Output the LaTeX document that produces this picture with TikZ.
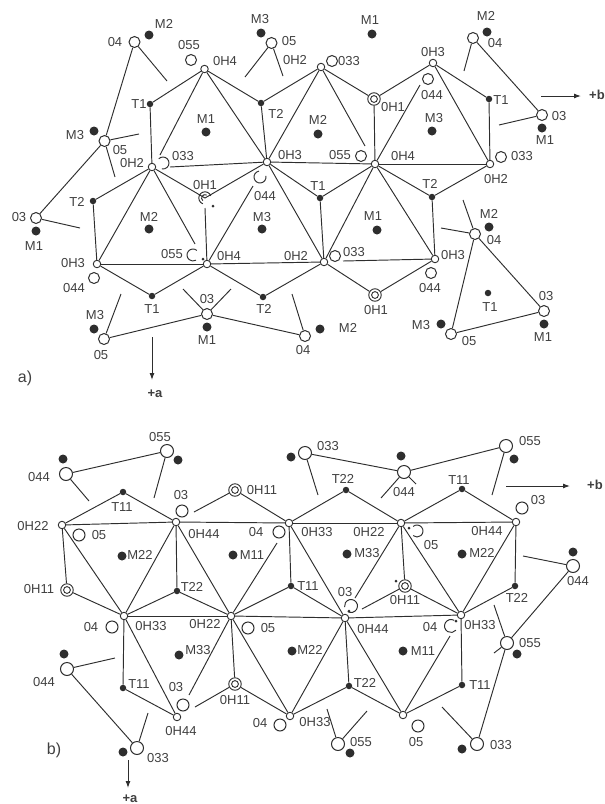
\documentclass[tikz,border=0pt]{standalone}
\usepackage{fontspec}
\setmainfont{Liberation Sans}
\usetikzlibrary{arrows.meta}
\definecolor{ink}{gray}{0.18}
\definecolor{txt}{gray}{0.25}
\tikzset{
  bond/.style={draw=ink,line width=0.95pt},
  axisline/.style={draw=ink,line width=1pt,-{Latex[length=7pt,width=5pt]}},
  sm/.style={circle,draw=ink,line width=0.9pt,fill=white,minimum size=7.5pt,inner sep=0pt},
  med/.style={circle,draw=ink,line width=1pt,fill=white,minimum size=11pt,inner sep=0pt},
  big/.style={circle,draw=ink,line width=1pt,fill=white,minimum size=13pt,inner sep=0pt},
  ring/.style={circle,draw=ink,line width=0.9pt,fill=white,minimum size=12.5pt,inner sep=0pt,
    path picture={\draw[ink,line width=0.9pt] (path picture bounding box.center) circle[radius=3.4pt];}},
  cat/.style={circle,fill=ink,minimum size=9pt,inner sep=0pt},
  tet/.style={circle,fill=ink,minimum size=6.5pt,inner sep=0pt},
  tiny/.style={circle,fill=ink,minimum size=3pt,inner sep=0pt},
  lbl/.style={text=txt,font=\fontsize{13}{13}\selectfont,inner sep=0pt},
  blbl/.style={text=txt,font=\fontsize{13}{13}\selectfont\bfseries,inner sep=0pt},
  hook/.style={draw=ink,line width=0.95pt},
}
\begin{document}
\begin{tikzpicture}[x=1pt,y=-1pt]
\useasboundingbox (0,0) rectangle (605,804);
% ---------- stub ends
\foreach \n/\x/\y in {
 s1/167/81, s2/139/134, s3/115/177, s4/245/77, s5/283/76, s6/80/228, s7/464/71, s8/499/125,
 s9/365/146, s10/420/85, s11/160/155, s12/170/167, s13/195/244, s14/205/208, s15/253/186,
 s16/343/261, s17/183/289, s18/231/289, s19/121/294, s20/292/294, s21/441/228, s22/463/200,
 t1/89/501, t2/154/498, t3/194/512, t4/318/495, t5/381/498, t6/416/484, t7/492/495,
 t8/523/556, t9/115/658, t10/148/713, t11/195/707, t12/277/543, t13/189/695, t14/450/636,
 t16/355/598, t17/362/609, t18/545/600, t19/494/605, t20/494/653, t21/442/707, t22/327/709, t23/367/711
 }{\coordinate (\n) at (\x,\y);}
% ---------- nodes of part a
\foreach \n/\x/\y in {
 a0Hfourt/204.5/69, a0Htwol/152/167, a0Hthreec/267/162, a0Htwou/321/67, a0Hthreer/433/63,
 a0Hfourc/375/164, a0Htwor/490/164, a0Hthreel/97/264, a0Hfourl/207/264, a0Htwob/324/262, a0Hthreeb/435/259}
 {\node[sm] (\n) at (\x,\y) {};}
\foreach \n/\x/\y in {a0Honeu/374/99, a0Honeb/375/295} {\node[ring] (\n) at (\x,\y) {};}
\coordinate (a0Honel) at (205,198);
\foreach \n/\x/\y in {
 aOfourt/134.5/42, aOfivel/104.5/141, aOfivet/271.5/43, aOthreel/36/218, aOfourr/473/38, aOthreer/542/115,
 aOthreeb/207/314, aOfiveb/104/339, aOfourb/305/336, aOfourrb/475/234, aOthreerb/544/311, aOfiverb/451/334}
 {\node[med] (\n) at (\x,\y) {};}
\foreach \n/\x/\y in {aOff/191/60, aOtt/332/61, aOgg/428/79, aOffc/361/156, aOttr/501/157, aOggl/94/278, aOttb/335/256, aOggb/431/273}
 {\node[med] (\n) at (\x,\y) {};}
% ---------- nodes of part b
\foreach \n/\x/\y in {
 b0Htwol/62/525, b0Hfouru/176/522, b0Hthreeu/289/523, b0Htwou/401/523, b0Hfourr/516/522,
 b0Hthreel/124/616, b0Htwoc/231/616, b0Hfourc/345/618, b0Hthreer/461/615,
 b0Hfourb/177/717, b0Hthreeb/290/716, b0Hb/403/715}
 {\node[sm] (\n) at (\x,\y) {};}
\foreach \n/\x/\y in {b0Honet/235/490, b0Honel/67/590, b0Honec/405/586, b0Honeb/235/684} {\node[ring] (\n) at (\x,\y) {};}
\foreach \n/\x/\y in {bA/167/451, bB/66/474, bC/305/453, bD/404/472, bE/506/446, bF/573/566, bG/67/669, bH/137/748, bI/338/744, bJ/507/643, bK/477/744}
 {\node[big] (\n) at (\x,\y) {};}
\foreach \n/\x/\y in {bOa/182/511, bOb/79/535, bOc/279/532, bOd/522/508, bOe/112/627, bOf/248/628, bOg/183/705, bOh/280/725, bOi/418/726}
 {\node[big,minimum size=12pt] (\n) at (\x,\y) {};}
% ---------- tetrahedral sites
\foreach \n/\x/\y in {aTa/150/104, aTb/261/103, aTc/489/99, aTd/93/201, aTe/320/198, aTf/432/197, aTg/152/296, aTh/263/297, aTi/488/293,
 bTa/123/492, bTb/346/490, bTc/462/489, bTd/177/591, bTe/291/586, bTf/515/586, bTg/123/688, bTh/349/686, bTi/462/685}
 {\node[tet] (\n) at (\x,\y) {};}
% ---------- octahedral sites
\foreach \n/\x/\y in {
 c1/149/35, c2/261/33, c3/372/34, c4/487/32, c5/94/131, c6/206/132, c7/318/134, c8/432/131, c9/542/128,
 c10/36/231, c11/149/229, c12/262/229, c13/377/230, c14/489/227, c15/207/327, c16/94/329, c17/320/329, c18/441/324, c19/544/324,
 d1/178/460, d2/63/459, d3/291/457, d4/401/456, d5/514/459, d6/122/556, d7/233/555, d8/347/554, d9/462/554, d10/573/552,
 d11/64/654, d12/179/655, d13/292/651, d14/403/651, d15/517/654, d16/123/752, d17/350/753, d18/462/749}
 {\node[cat] (\n) at (\x,\y) {};}
\foreach \n/\x/\y in {e1/213/206, e2/203/259, e3/409/528, e4/396/581, e5/456/621, e6/349/611}
 {\node[tiny] (\n) at (\x,\y) {};}
% ---------- bonds part a
\foreach \a/\b in {
 a0Hfourt/aTa, a0Hfourt/aTb, a0Hfourt/a0Hthreec, a0Hfourt/s11, aTa/a0Htwol, aTb/a0Hthreec, aTb/a0Htwou,
 a0Htwou/a0Hthreec, a0Htwou/a0Honeu, a0Htwou/s9, a0Honeu/a0Hthreer, a0Honeu/a0Hfourc, a0Hthreer/aTc, aTc/a0Htwor,
 a0Hthreer/a0Htwor, s10/a0Hfourc, a0Hfourc/a0Htwor, a0Hthreec/a0Hfourc, a0Hfourc/aTe, aTe/a0Hthreec, a0Hfourc/aTf,
 aTf/a0Htwor, a0Hfourc/a0Hthreeb, aTf/a0Hthreeb, a0Hfourc/a0Htwob, aTe/a0Htwob, a0Hthreec/a0Htwob,
 s12/a0Hthreec, a0Htwol/a0Honel, a0Honel/a0Hthreec, a0Htwol/aTd, aTd/a0Hthreel, a0Htwol/a0Hthreel, a0Htwol/s13,
 s14/a0Hfourl, s15/a0Hfourl, a0Hfourl/a0Hthreel, a0Hfourl/aTg, aTg/a0Hthreel, a0Hfourl/a0Htwob,
 a0Hfourl/aTh, aTh/a0Htwob, s16/a0Hthreeb, a0Htwob/a0Honeb, a0Honeb/a0Hthreeb,
 aOfourt/s1, aOfourt/aOfivel, aOfivel/s2, aOfivel/s3, aOfivel/aOthreel, aOfivet/s4, aOfivet/s5, aOthreel/s6,
 aOfourr/s7, aOfourr/aOthreer, aOthreer/s8, aOthreeb/s17, aOthreeb/s18, aOthreeb/aOfiveb, aOthreeb/aOfourb,
 aOfiveb/s19, aOfourb/s20, aOfourrb/s21, aOfourrb/s22, aOfourrb/aOthreerb, aOfourrb/aOfiverb, aOfiverb/aOthreerb}
 {\path[bond] (\a) -- (\b);}
% ---------- bonds part b
\foreach \a/\b in {
 b0Htwol/bTa, bTa/b0Hfouru, b0Htwol/b0Hfouru, b0Hfouru/b0Hthreeu, b0Hthreeu/b0Htwou, b0Htwou/b0Hfourr,
 b0Hthreeu/bTb, bTb/b0Htwou, b0Htwou/bTc, bTc/b0Hfourr, t3/b0Honet, b0Honet/b0Hthreeu,
 b0Htwol/b0Honel, b0Honel/b0Hthreel, b0Htwol/b0Hthreel, b0Hfouru/b0Hthreel, b0Hfouru/bTd, bTd/b0Hthreel, bTd/b0Htwoc,
 b0Hfouru/b0Htwoc, t12/b0Htwoc, b0Hthreeu/bTe, b0Hthreeu/b0Hfourc, bTe/b0Htwoc, bTe/b0Hfourc,
 b0Hthreel/b0Htwoc, b0Htwoc/b0Hfourc, b0Hfourc/b0Hthreer,
 b0Htwou/t16, b0Htwou/b0Honec, b0Htwou/b0Hthreer, b0Hfourr/bTf, b0Hfourr/b0Hthreer, bTf/b0Hthreer,
 t17/b0Honec, b0Honec/b0Hthreer, b0Hthreer/bTi, t14/b0Hb, b0Hfourc/bTh, b0Hfourc/b0Hb, bTh/b0Hthreeb, bTh/b0Hb, bTi/b0Hb,
 b0Hfourc/b0Hthreeb, b0Htwoc/b0Hthreeb, b0Htwoc/b0Honeb, b0Htwoc/t13, b0Hthreel/bTg, bTg/b0Hfourb, b0Hthreel/b0Hfourb,
 t11/b0Honeb, b0Honeb/b0Hthreeb,
 bB/bA, bB/t1, bA/t2, bC/t4, bC/bD, bD/t5, bD/t6, bD/bE, bE/t7, bF/t8, bF/bJ, bJ/t19, bJ/t20, bJ/bK, bK/t21,
 bG/t9, bG/bH, bH/t10, bI/t22, bI/t23}
 {\path[bond] (\a) -- (\b);}
% ---------- partly hidden ligands
\path[hook] (163,163) ++(135:6pt) arc[start angle=135,end angle=-100,radius=6pt];
\path[hook] (260,177) ++(100:6pt) arc[start angle=100,end angle=370,radius=6pt];
\path[hook] (205,198) ++(20:6.2pt) arc[start angle=20,end angle=250,radius=6.2pt];
\path[hook] (205,198) ++(60:3.4pt) arc[start angle=60,end angle=230,radius=3.4pt];
\path[hook] (193,255) ++(50:6pt) arc[start angle=50,end angle=300,radius=6pt];
\path[hook] (417,531) ++(130:6pt) arc[start angle=130,end angle=-130,radius=6pt];
\path[hook] (351,606) ++(-120:6.5pt) arc[start angle=-120,end angle=190,radius=6.5pt];
\path[hook] (451,626) ++(60:6.5pt) arc[start angle=60,end angle=320,radius=6.5pt];
% ---------- labels part a
\foreach \x/\y/\t in {
 164/24/M2, 115/42/04, 189/45/055, 225/61/0H4, 260/19/M3, 289/41/05, 295/60/0H2, 349/61/033, 370/20/M1,
 433/52/0H3, 486/16/M2, 495/43/04, 559/116/03, 545/140/M1, 139/104/T1, 276/114/T2, 206/119/M1, 318/120/M2, 434/118/M3,
 75/135/M3, 120/150/05, 132/163/0H2, 183/156/033, 290/155/0H3, 205/185/0H1, 265/196/044, 393/107/0H1, 432/95/044,
 340/155/055, 403/156/0H4, 522/156/033, 496/179/0H2, 318/186/T1, 430/184/T2, 77/202/T2, 19/217/03, 34/246/M1,
 149/217/M2, 262/217/M3, 373/216/M1, 489/214/M2, 494/240/04, 73/263/0H3, 74/288/044, 172/254/055, 229/256/0H4,
 296/256/0H2, 354/252/033, 453/255/0H3, 430/288/044, 152/309/T1, 264/309/T2, 207/299/03, 207/340/M1, 95/315/M3,
 101/355/05, 303/350/04, 348/328/M2, 376/310/0H1, 490/307/T1, 546/296/03, 543/337/M1, 469/341/05, 421/325/M3,
 501/100/T1}
 {\node[lbl] (la\x-\y) at (\x,\y) {\t};}
% ---------- labels part b
\foreach \x/\y/\t in {
 160/437/055, 39/477/044, 328/446/033, 530/441/055, 404/492/044, 122/507/T11, 181/495/03, 262/490/0H11, 343/479/T22, 459/480/T11,
 538/500/03, 33/526/0H22, 99/535/05, 204/534/0H44, 256/532/04, 317/532/0H33, 369/532/0H22, 487/531/0H44, 431/545/05,
 140/555/M22, 252/555/M11, 367/553/M33, 482/553/M22, 578/581/044, 39/589/0H11, 192/587/T22, 308/586/T11, 345/592/03, 405/600/0H11,
 517/598/T22, 91/627/04, 151/626/0H33, 205/624/0H22, 268/628/05, 373/629/0H44, 430/627/04, 480/625/0H33,
 198/650/M33, 310/650/M22, 423/651/M11, 530/643/055, 44/682/044, 139/684/T11, 176/687/03, 235/700/0H11,
 365/683/T22, 480/685/T11, 181/731/0H44, 260/723/04, 315/722/0H33, 158/758/033, 361/742/055, 416/742/05, 501/745/033}
 {\node[lbl] (lb\x-\y) at (\x,\y) {\t};}
\node[lbl,font=\fontsize{16}{16}\selectfont] (lA) at (25,378) {a)};
\node[lbl,font=\fontsize{16}{16}\selectfont] (lB) at (54,750) {b)};
% ---------- axes
\node[blbl] (pb1) at (597,95) {+b};
\coordinate (pb1s) at (541,96); \coordinate (pb1e) at (581,96);
\path[axisline] (pb1s) -- (pb1e);
\node[blbl] (pa1) at (155,394) {+a};
\coordinate (pa1s) at (152,337); \coordinate (pa1e) at (152,380);
\path[axisline] (pa1s) -- (pa1e);
\node[blbl] (pb2) at (595,485) {+b};
\coordinate (pb2s) at (506,486); \coordinate (pb2e) at (570,486);
\path[axisline] (pb2s) -- (pb2e);
\node[blbl] (pa2) at (130,799) {+a};
\coordinate (pa2s) at (128,760); \coordinate (pa2e) at (128,788);
\path[axisline] (pa2s) -- (pa2e);
\end{tikzpicture}
\end{document}
